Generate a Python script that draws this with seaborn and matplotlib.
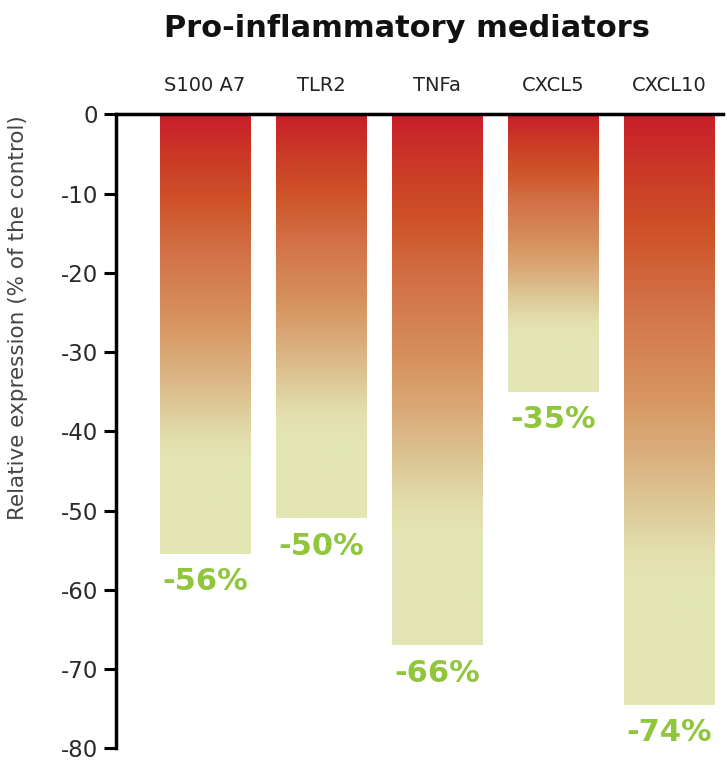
import numpy as np
import pandas as pd
import matplotlib
matplotlib.use("Agg")
import matplotlib.pyplot as plt
import seaborn as sns
from matplotlib.colors import LinearSegmentedColormap

categories = ["S100 A7", "TLR2", "TNFa", "CXCL5", "CXCL10"]
values = [-55.5, -51.0, -67.0, -35.0, -74.5]
value_labels = ["-56%", "-50%", "-66%", "-35%", "-74%"]
yticks = [0, -10, -20, -30, -40, -50, -60, -70, -80]

sns.set_theme(style="white")
plt.rcParams['font.family'] = ['DejaVu Sans']

df = pd.DataFrame({"gene": categories, "value": values})

fig = plt.figure(figsize=(7.27, 7.62), dpi=100)
ax = fig.add_axes([0.16, 0.018, 0.835, 0.832])

sns.barplot(data=df, x="gene", y="value", ax=ax, width=0.78, color="white",
            edgecolor="none", zorder=1)

cmap = LinearSegmentedColormap.from_list("grad", [
    (0.00, "#c81e2a"),
    (0.10, "#cb3a27"),
    (0.20, "#cf5328"),
    (0.33, "#d3744a"),
    (0.46, "#d6915d"),
    (0.57, "#daad7c"),
    (0.66, "#ddc896"),
    (0.74, "#e2dfad"),
    (0.80, "#e3e6b4"),
    (1.00, "#e3e7b4"),
])
grad = np.linspace(0, 1, 256).reshape(-1, 1)

for patch, lab in zip(ax.patches, value_labels):
    x0 = patch.get_x()
    w = patch.get_width()
    h = patch.get_height()
    y0 = patch.get_y()
    bottom = min(y0, y0 + h)
    top = max(y0, y0 + h)
    patch.set_facecolor("none")
    ax.imshow(grad, cmap=cmap, aspect="auto", extent=(x0, x0 + w, bottom, top),
              origin="upper", zorder=1, interpolation="bilinear")
    ax.annotate(lab, xy=(x0 + w / 2, bottom), xytext=(0, -20), textcoords="offset points",
                ha="center", va="center", color="#8fc63c", fontsize=22, fontweight="bold")

ax.set_xlim(-0.765, 4.47)
ax.set_ylim(-80, 0)
ax.set_yticks(yticks)
ax.set_yticklabels([str(t) for t in yticks], fontsize=16.5, color="#2a2a2a")

ax.xaxis.tick_top()
ax.tick_params(axis="x", length=0, pad=14, labelsize=14, labelcolor="#222222")
ax.set_xlabel("")
ax.tick_params(axis="y", direction="out", length=9, width=2.2, color="black", pad=4, left=True)

for s in ["right", "bottom"]:
    ax.spines[s].set_visible(False)
ax.spines["left"].set_linewidth(2.5)
ax.spines["left"].set_color("black")
ax.spines["top"].set_linewidth(2.5)
ax.spines["top"].set_color("black")
ax.spines["top"].set_zorder(5)

ax.set_ylabel("Relative expression (% of the control)", fontsize=15.5, color="#444444")
ax.yaxis.set_label_coords(-0.145, 0.68)

fig.text(0.56, 0.962, "Pro-inflammatory mediators", ha="center", va="center",
         fontsize=22, fontweight="bold", color="#111111")

fig.savefig("out.png", dpi=100)
